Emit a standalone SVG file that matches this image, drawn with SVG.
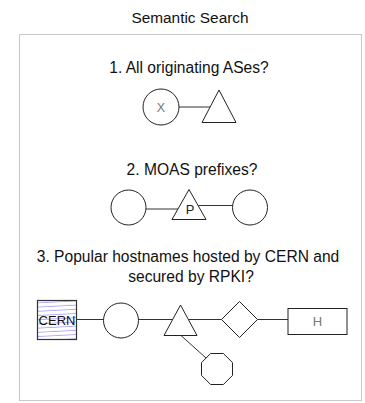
<svg xmlns="http://www.w3.org/2000/svg" width="365" height="403" viewBox="0 0 365 403">
<style>
.lbl{font-family:"Liberation Sans",Arial,sans-serif;font-size:15.6px;fill:#111;text-anchor:middle}
.shape{fill:#fff;stroke:#222;stroke-width:1}
.edge{stroke:#333;stroke-width:1;fill:none}
.in{font-family:"Liberation Sans",Arial,sans-serif;text-anchor:middle}
</style>
<defs>
<pattern id="hatch" patternUnits="userSpaceOnUse" width="39" height="4.2" patternTransform="rotate(-3)">
<rect width="39" height="4.2" fill="#fff"/>
<line x1="0" y1="2" x2="39" y2="2" stroke="#9a90f0" stroke-width="0.8"/>
</pattern>
</defs>
<rect width="365" height="403" fill="#fff"/>
<text class="lbl" x="190" y="23" style="font-size:15.4px">Semantic Search</text>
<rect x="19.5" y="34.5" width="342" height="366" fill="none" stroke="#c8c8c8" stroke-width="1"/>
<text class="lbl" x="189" y="73">1. All originating ASes?</text>
<text class="lbl" x="192" y="174.5">2. MOAS prefixes?</text>
<text class="lbl" x="188" y="262">3. Popular hostnames hosted by CERN and</text>
<text class="lbl" x="191" y="282">secured by RPKI?</text>
<g id="connectors">
<line class="edge" x1="179" y1="107" x2="210" y2="107"/>
<line class="edge" x1="146" y1="209" x2="178" y2="209"/>
<line class="edge" x1="198" y1="205.5" x2="232.5" y2="205.5"/>
<line class="edge" x1="76.5" y1="319.5" x2="103.5" y2="319.5"/>
<line class="edge" x1="138.5" y1="319.5" x2="172.6" y2="319.5"/>
<line class="edge" x1="188.5" y1="319.5" x2="221.5" y2="319.5"/>
<line class="edge" x1="257.5" y1="319.5" x2="288" y2="319.5"/>
<line class="edge" x1="181" y1="335.5" x2="206" y2="358"/>
</g>
<g id="q1-x">
<circle class="shape" cx="161" cy="107" r="18"/>
<text class="in" x="161" y="111.5" font-size="12.5" fill="#777">X</text>
</g>
<g id="q1-tri"><polygon class="shape" points="219,90 202,122.5 236,122.5"/></g>
<g id="q2-c1"><circle class="shape" cx="128.5" cy="207.5" r="17.5"/></g>
<g id="q2-p">
<polygon class="shape" points="189,189.5 172,219.5 206,219.5"/>
<text class="in" x="190" y="214" font-size="13" fill="#222">P</text>
</g>
<g id="q2-c2"><circle class="shape" cx="250" cy="207.5" r="17.5"/></g>
<g id="q3-cern">
<rect x="37.5" y="300.5" width="39" height="39" fill="url(#hatch)" stroke="#333" stroke-width="1.2"/>
<text class="in" x="57" y="324.5" font-size="13" fill="#111">CERN</text>
</g>
<g id="q3-circle"><circle class="shape" cx="121" cy="320.5" r="17.5"/></g>
<g id="q3-tri"><polygon class="shape" points="180.5,305 164,335.5 197,335.5"/></g>
<g id="q3-diamond"><polygon class="shape" points="239.5,301.5 257.5,319.5 239.5,337.5 221.5,319.5"/></g>
<g id="q3-h">
<rect class="shape" x="288" y="308.5" width="59" height="26" stroke="#444"/>
<text class="in" x="317.5" y="326" font-size="13" fill="#777">H</text>
</g>
<g id="q3-oct"><polygon class="shape" points="223.4,353.5 232.5,362.6 232.5,375.4 223.4,384.5 210.6,384.5 201.5,375.4 201.5,362.6 210.6,353.5"/></g>
</svg>
